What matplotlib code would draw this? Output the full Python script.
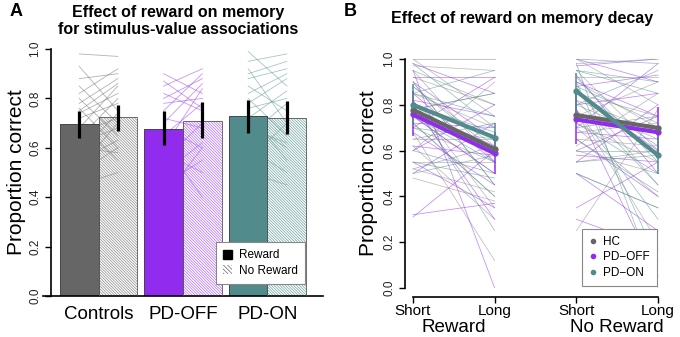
import numpy as np
import matplotlib
matplotlib.use("Agg")
import matplotlib.pyplot as plt
from matplotlib.patches import Patch
from matplotlib.lines import Line2D
from matplotlib.transforms import blended_transform_factory

plt.rcParams['font.family'] = ['Liberation Sans', 'DejaVu Sans']
plt.rcParams['hatch.linewidth'] = 0.5

# ---- data, panel A (bars = group means, lines = subjects)
groups = ["Controls", "PD-OFF", "PD-ON"]
colors = ["#666666", "#912CEE", "#528B8B"]
hatch_colors = ["#8c8c8c", "#b56ef5", "#6fa3a3"]
bar_reward = [0.695, 0.678, 0.730]
bar_noreward = [0.725, 0.710, 0.722]
err_reward_lo = [0.640, 0.610, 0.660]
err_reward_hi = [0.750, 0.750, 0.795]
err_noreward_lo = [0.670, 0.640, 0.655]
err_noreward_hi = [0.775, 0.785, 0.790]

subj_reward = {
    "Controls": [0.98, 0.93, 0.88, 0.85, 0.82, 0.80, 0.78, 0.76, 0.74, 0.72, 0.70,
                 0.68, 0.66, 0.64, 0.62, 0.60, 0.58, 0.55, 0.52, 0.50, 0.75, 0.45],
    "PD-OFF": [0.90, 0.85, 0.82, 0.80, 0.78, 0.75, 0.72, 0.70, 0.68, 0.65, 0.60,
               0.58, 0.55, 0.50, 0.45, 0.62, 0.87, 0.40],
    "PD-ON": [0.99, 0.95, 0.92, 0.88, 0.85, 0.82, 0.80, 0.78, 0.76, 0.74, 0.72,
              0.70, 0.65, 0.60, 0.55, 0.50, 0.90, 0.68],
}
subj_noreward = {
    "Controls": [0.97, 0.75, 0.90, 0.70, 0.92, 0.65, 0.88, 0.60, 0.82, 0.78, 0.55,
                 0.85, 0.72, 0.80, 0.68, 0.58, 0.74, 0.63, 0.70, 0.60, 0.86, 0.50],
    "PD-OFF": [0.82, 0.92, 0.75, 0.88, 0.80, 0.90, 0.68, 0.86, 0.60, 0.78, 0.84,
               0.50, 0.70, 0.62, 0.55, 0.40, 0.76, 0.60],
    "PD-ON": [0.85, 0.98, 0.70, 0.92, 0.75, 0.90, 0.65, 0.88, 0.80, 0.55, 0.83,
              0.60, 0.78, 0.50, 0.70, 0.45, 0.95, 0.62],
}

# ---- data, panel B (memory decay: Short/Long delay)
b_groups = ["HC", "PD\u2212OFF", "PD\u2212ON"]
b_ticks = ["Short", "Long", "Short", "Long"]
b_conditions = ["Reward", "No Reward"]

# subject values: reward short/long, noreward short/long
hc_rs = [1.00, 0.97, 0.95, 0.92, 0.90, 0.88, 0.85, 0.82, 0.80, 0.78, 0.75, 0.72, 0.70, 0.68, 0.65, 0.62, 0.55, 0.52, 0.48, 0.60]
hc_rl = [0.75, 0.95, 0.55, 0.80, 0.45, 0.62, 0.70, 0.35, 0.58, 0.85, 0.50, 0.40, 0.55, 0.12, 0.65, 0.30, 0.55, 0.42, 0.38, 0.90]
hc_ns = [1.00, 0.98, 0.95, 0.92, 0.90, 0.87, 0.85, 0.80, 0.78, 0.75, 0.72, 0.70, 0.68, 0.65, 0.62, 0.60, 0.55, 0.50, 0.25, 0.82]
hc_nl = [0.80, 1.00, 0.60, 0.92, 0.70, 0.45, 0.75, 0.65, 0.20, 0.90, 0.55, 0.40, 0.72, 0.62, 0.85, 0.50, 0.60, 0.35, 0.78, 0.68]

off_rs = [0.98, 0.95, 0.92, 0.90, 0.85, 0.82, 0.80, 0.78, 0.75, 0.72, 0.70, 0.68, 0.62, 0.60, 0.55, 0.50, 0.32, 0.31]
off_rl = [0.85, 0.00, 0.92, 0.65, 0.55, 0.75, 0.30, 0.62, 0.50, 0.70, 0.92, 0.45, 0.58, 0.80, 0.35, 0.72, 0.37, 0.60]
off_ns = [1.00, 0.97, 0.93, 0.90, 0.88, 0.85, 0.80, 0.78, 0.75, 0.70, 0.68, 0.65, 0.60, 0.58, 0.55, 0.35, 0.30, 0.50]
off_nl = [0.90, 1.00, 0.50, 0.75, 0.93, 0.60, 0.85, 0.05, 0.70, 0.98, 0.65, 0.40, 0.75, 0.55, 0.80, 0.55, 0.17, 0.25]

on_rs = [1.00, 0.98, 0.95, 0.90, 0.88, 0.85, 0.82, 0.80, 0.78, 0.75, 0.72, 0.70, 0.65, 0.60, 0.55, 0.52, 0.50, 0.85]
on_rl = [1.00, 0.70, 0.80, 0.45, 0.60, 0.75, 0.25, 0.68, 0.85, 0.55, 0.40, 0.65, 0.72, 0.50, 0.48, 0.62, 0.58, 0.95]
on_ns = [1.00, 0.98, 0.95, 0.92, 0.90, 0.88, 0.86, 0.82, 0.80, 0.78, 0.75, 0.72, 0.70, 0.65, 0.60, 0.55, 0.50, 0.95]
on_nl = [0.98, 0.00, 0.85, 0.55, 0.12, 0.72, 0.62, 0.45, 0.95, 0.30, 0.68, 0.50, 0.75, 0.42, 0.60, 0.58, 0.35, 0.90]

# group means and error bars at Short/Long, Reward then No Reward
mean_hc = [0.778, 0.607, 0.755, 0.699]
mean_off = [0.758, 0.588, 0.736, 0.680]
mean_on = [0.800, 0.657, 0.860, 0.580]
err_off_lo = [0.665, 0.500, 0.630, 0.580]
err_off_hi = [0.860, 0.680, 0.850, 0.790]
err_on_lo = [0.710, 0.590, 0.770, 0.500]
err_on_hi = [0.890, 0.720, 0.940, 0.660]

W, H = 680, 337
fig = plt.figure(figsize=(W / 100, H / 100), dpi=100)


def fx(px):
    return px / W


def fy(px):
    return 1 - px / H


HATCH = "\\" * 12

# ================= panel A
axA = fig.add_axes([fx(43), fy(296), fx(280), 247 / H])
x = np.arange(len(groups))
w = 0.458
axA.set_xlim(-0.657, 2.657)
axA.set_ylim(0, 1)

for i, g in enumerate(groups):
    for r, n in zip(subj_reward[g], subj_noreward[g]):
        axA.plot([x[i] - w / 2, x[i] + w / 2], [r, n], color=colors[i], alpha=0.5,
                 lw=0.6, zorder=1)

axA.bar(x - w / 2, bar_reward, w, color=colors, edgecolor="#333333", lw=0.6, zorder=2)
for i in range(len(groups)):
    axA.bar(x[i] + w / 2, bar_noreward[i], w, fill=False, hatch=HATCH,
            edgecolor=hatch_colors[i], lw=0, zorder=2)
axA.bar(x + w / 2, bar_noreward, w, fill=False, edgecolor="#555555", lw=0.6, zorder=3)

axA.vlines(x - w / 2, err_reward_lo, err_reward_hi, color="black", lw=2.3, zorder=4)
axA.vlines(x + w / 2, err_noreward_lo, err_noreward_hi, color="black", lw=2.3, zorder=4)

axA.spines[['top', 'right']].set_visible(False)
axA.spines['left'].set_position(('axes', 8 / 280))
axA.spines['left'].set_bounds(0, 1)
axA.spines['left'].set_linewidth(1.2)
axA.spines['bottom'].set_linewidth(1.2)
axA.set_yticks(np.arange(0, 1.01, 0.2))
axA.set_yticklabels([f"{v:.1f}" for v in np.arange(0, 1.01, 0.2)], rotation=90,
                    va="center", fontsize=8.5, color="#222222")
axA.tick_params(axis='y', length=4, width=1, pad=3)
axA.set_xticks(x)
axA.set_xticklabels(groups, fontsize=13.5)
axA.tick_params(axis='x', length=0, pad=7)
axA.set_ylabel("Proportion correct", fontsize=15, labelpad=2)
axA.patch.set_alpha(0)

legA = axA.legend(handles=[Patch(facecolor="black", edgecolor="black"),
                           Patch(facecolor="white", edgecolor="#666666", hatch="\\" * 8, lw=0)],
                  labels=["Reward", "No Reward"], loc="lower right",
                  bbox_to_anchor=(fx(311), fy(290)), bbox_transform=fig.transFigure,
                  fontsize=8.5, fancybox=False, framealpha=1, edgecolor="#888888",
                  handlelength=0.8, handleheight=0.8, handletextpad=0.6, borderpad=0.6,
                  labelspacing=0.3)
legA.get_frame().set_linewidth(0.8)
legA.set_zorder(6)

# ================= panel B
axB = fig.add_axes([fx(405), fy(288), fx(263), 229 / H])
xb = np.array([1, 2, 3, 4])
axB.set_xlim(1 - 8 / 81.67, 4 + 10 / 81.67)
axB.set_ylim(0, 1)

light = [("#888888", hc_rs, hc_rl, hc_ns, hc_nl),
         (colors[1], off_rs, off_rl, off_ns, off_nl),
         (colors[2], on_rs, on_rl, on_ns, on_nl)]
for c, rs, rl, ns, nl in light:
    for a, b in zip(rs, rl):
        axB.plot(xb[:2], [a, b], color=c, alpha=0.55, lw=0.55, zorder=1)
    for a, b in zip(ns, nl):
        axB.plot(xb[2:], [a, b], color=c, alpha=0.55, lw=0.55, zorder=1)

axB.vlines(xb, err_off_lo, err_off_hi, color=colors[1], lw=1.1, zorder=2)
axB.vlines(xb, err_on_lo, err_on_hi, color=colors[2], lw=1.1, zorder=2)
# draw PD-OFF first so the HC mean stays visible above it
for z, c, m in [(3, colors[1], mean_off), (4, colors[0], mean_hc), (5, colors[2], mean_on)]:
    axB.plot(xb[:2], m[:2], color=c, lw=3, zorder=z, solid_capstyle="butt")
    axB.plot(xb[2:], m[2:], color=c, lw=3, zorder=z, solid_capstyle="butt")
    axB.plot(xb, m, "o", color=c, ms=3.5, zorder=z)

axB.spines[['top', 'right']].set_visible(False)
axB.spines['left'].set_bounds(0, 1)
axB.spines['bottom'].set_bounds(1, 4)
axB.spines['bottom'].set_position(('outward', 6.5))
axB.spines['left'].set_linewidth(1.2)
axB.spines['bottom'].set_linewidth(1.2)
axB.set_yticks(np.arange(0, 1.01, 0.2))
axB.set_yticklabels([f"{v:.1f}" for v in np.arange(0, 1.01, 0.2)], rotation=90,
                    va="center", fontsize=8.5, color="#222222")
axB.tick_params(axis='y', length=4, width=1, pad=3)
axB.set_xticks(xb)
axB.set_xticklabels(b_ticks, fontsize=11)
axB.tick_params(axis='x', length=4, width=1, pad=1)
axB.set_ylabel("Proportion correct", fontsize=15, labelpad=4)
trB = blended_transform_factory(axB.transData, fig.transFigure)
for k, lab in enumerate(b_conditions):
    axB.text((xb[2 * k] + xb[2 * k + 1]) / 2, fy(328), lab, fontsize=13.5, ha="center",
             va="center", transform=trB)
axB.patch.set_alpha(0)

legB = axB.legend(handles=[Line2D([], [], ls="", marker="o", ms=3, color=c) for c in colors],
                  labels=b_groups, loc="lower right",
                  bbox_to_anchor=(fx(663), fy(292)), bbox_transform=fig.transFigure,
                  fontsize=8.5, fancybox=False, framealpha=1, edgecolor="#888888",
                  handlelength=0.6, handletextpad=0.6, borderpad=0.6, labelspacing=0.3)
legB.get_frame().set_linewidth(0.8)
legB.set_zorder(6)

# ================= titles and panel letters
fig.text(fx(178), fy(12), "Effect of reward on memory", fontsize=11.5, fontweight="bold",
         ha="center", va="center")
fig.text(fx(178), fy(30), "for stimulus-value associations", fontsize=11.5, fontweight="bold",
         ha="center", va="center")
fig.text(fx(522), fy(18), "Effect of reward on memory decay", fontsize=11.5, fontweight="bold",
         ha="center", va="center")
fig.text(fx(10), fy(11), "A", fontsize=13, fontweight="bold", ha="left", va="center")
fig.text(fx(344), fy(11), "B", fontsize=13, fontweight="bold", ha="left", va="center")

fig.savefig("out.png", dpi=100)
